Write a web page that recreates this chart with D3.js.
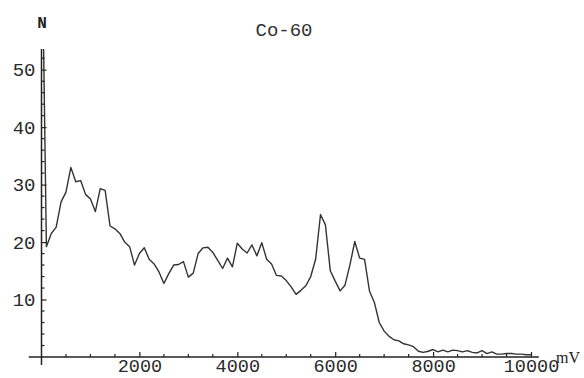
<!DOCTYPE html>
<html>
<head>
<meta charset="utf-8">
<script src="https://cdn.jsdelivr.net/npm/d3@7"></script>
<style>
  body { margin: 0; background: #fff; }
  svg { display: block; }
</style>
</head>
<body>
<svg id="chart" width="584" height="378"></svg>
<script>
// --------------- Data ---------------
// counts N per 100 mV channel
const voltages = d3.range(0, 10001, 100);
const counts = [
  80, 19.2, 21.5, 22.6, 27, 28.7, 33, 30.5, 30.7, 28.3,
  27.5, 25.3, 29.3, 29, 22.8, 22.3, 21.5, 20, 19.2, 16,
  18, 19, 17, 16.2, 14.8, 12.8, 14.5, 16, 16.1, 16.6,
  13.9, 14.6, 18, 19, 19.1, 18.2, 16.8, 15.4, 17.2, 15.7,
  19.8, 18.8, 18.1, 19.5, 17.6, 19.9, 17, 16.2, 14.2, 14.1,
  13.3, 12.2, 10.9, 11.6, 12.4, 14, 17, 24.8, 23, 15,
  13.2, 11.5, 12.5, 16, 20.1, 17.2, 17, 11.5, 9.5, 6,
  4.5, 3.6, 3, 2.8, 2.3, 2.1, 1.8, 1.0, 0.8, 1.0,
  1.3, 0.9, 1.2, 0.9, 1.2, 1.1, 0.9, 1.1, 0.8, 0.7,
  1.1, 0.6, 0.9, 0.5, 0.5, 0.6, 0.6, 0.5, 0.5, 0.4,
  0.4
];
const xMajor = [2000, 4000, 6000, 8000, 10000];
const xMinor = d3.range(500, 10001, 500).filter((v) => v % 2000 !== 0);
const yMajor = [10, 20, 30, 40, 50];
const yMinor = d3.range(2, 54, 2).filter((v) => v % 10 !== 0);
const title = "Co-60";

// --------------- Constants ---------------
const MONO = "'Liberation Mono', 'DejaVu Sans Mono', monospace";
const SERIF = "'Liberation Serif', 'DejaVu Serif', serif";
const AXIS_COLOR = "#222";

const x = d3.scaleLinear().domain([0, 10000]).range([41.5, 531]);
const y = d3.scaleLinear().domain([0, 53.6]).range([357, 49]);

const svg = d3.select("#chart");

// clip the curve to the plot range
svg
  .append("clipPath")
  .attr("id", "plot-clip")
  .append("rect")
  .attr("x", x(0))
  .attr("y", y(53.6))
  .attr("width", x(10200) - x(0))
  .attr("height", y(0) - y(53.6) + 2);

// --------------- Curve ---------------
const points = voltages.map((v, i) => [v, counts[i]]);
svg
  .append("path")
  .datum(points)
  .attr("clip-path", "url(#plot-clip)")
  .attr("fill", "none")
  .attr("stroke", "#333")
  .attr("stroke-width", 1.4)
  .attr("stroke-linejoin", "round")
  .attr("d", d3.line().x((d) => x(d[0])).y((d) => y(d[1])));

// --------------- Axes ---------------
// axis lines overshoot a little past the origin like the original
svg
  .append("line")
  .attr("x1", x(-260))
  .attr("x2", x(10160))
  .attr("y1", y(0))
  .attr("y2", y(0))
  .attr("stroke", AXIS_COLOR)
  .attr("stroke-width", 1.5);
svg
  .append("line")
  .attr("x1", x(0))
  .attr("x2", x(0))
  .attr("y1", y(-1.4))
  .attr("y2", y(53.6))
  .attr("stroke", AXIS_COLOR)
  .attr("stroke-width", 1.5);

// x ticks
const xAxis = svg.append("g").attr("transform", `translate(0,${y(0)})`);
xAxis
  .call(d3.axisBottom(x).tickValues(xMajor).tickSize(-5).tickPadding(2).tickFormat(d3.format("d")))
  .call((g) => g.select(".domain").remove());
xAxis.selectAll("line").attr("stroke", AXIS_COLOR).attr("stroke-width", 1.2);
xAxis
  .selectAll("text")
  .attr("fill", "#2a2a2a")
  .attr("font-family", MONO)
  .attr("font-size", 18.5)
  .attr("dy", "0.71em");
svg
  .append("g")
  .selectAll("line")
  .data(xMinor)
  .join("line")
  .attr("x1", (d) => x(d))
  .attr("x2", (d) => x(d))
  .attr("y1", y(0))
  .attr("y2", y(0) - 3)
  .attr("stroke", AXIS_COLOR)
  .attr("stroke-width", 1.2);

// y ticks
const yAxis = svg.append("g").attr("transform", `translate(${x(0)},0)`);
yAxis
  .call(d3.axisLeft(y).tickValues(yMajor).tickSize(-5).tickPadding(6).tickFormat(d3.format("d")))
  .call((g) => g.select(".domain").remove());
yAxis.selectAll("line").attr("stroke", AXIS_COLOR).attr("stroke-width", 1.2);
yAxis
  .selectAll("text")
  .attr("fill", "#2a2a2a")
  .attr("font-family", MONO)
  .attr("font-size", 19);
svg
  .append("g")
  .selectAll("line")
  .data(yMinor)
  .join("line")
  .attr("x1", x(0))
  .attr("x2", x(0) + 3)
  .attr("y1", (d) => y(d))
  .attr("y2", (d) => y(d))
  .attr("stroke", AXIS_COLOR)
  .attr("stroke-width", 1.2);

// --------------- Labels ---------------
svg
  .append("text")
  .text("N")
  .attr("x", 42)
  .attr("y", 28)
  .attr("text-anchor", "middle")
  .attr("font-family", MONO)
  .attr("font-weight", "bold")
  .attr("font-size", 16)
  .attr("fill", "#222");

svg
  .append("text")
  .text("mV")
  .attr("x", 556)
  .attr("y", 363)
  .attr("font-family", SERIF)
  .attr("font-size", 16)
  .attr("fill", "#222");

svg
  .append("text")
  .text(title)
  .attr("x", 284)
  .attr("y", 36)
  .attr("text-anchor", "middle")
  .attr("font-family", MONO)
  .attr("font-size", 19)
  .attr("fill", "#333");
</script>
</body>
</html>
